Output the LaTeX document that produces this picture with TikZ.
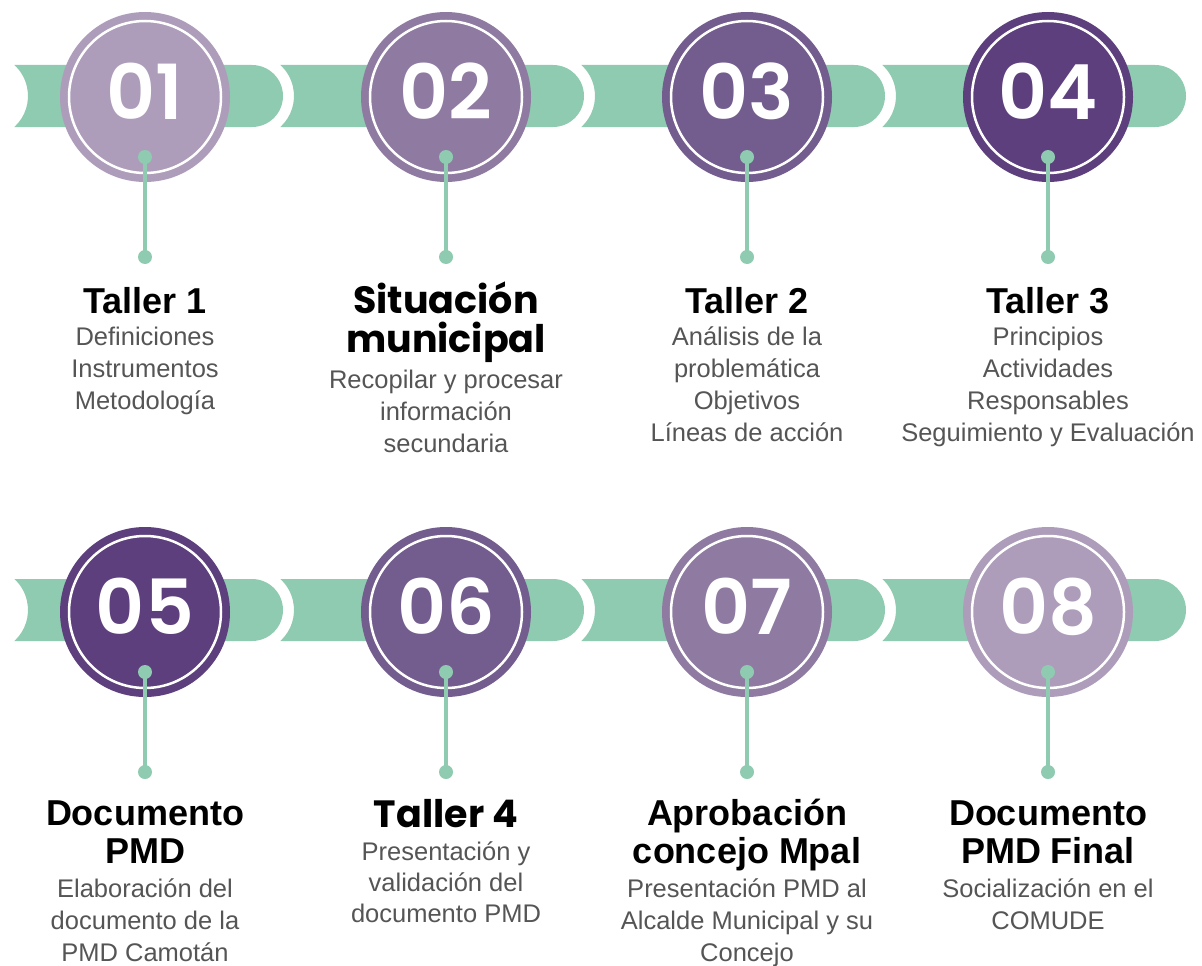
\documentclass[tikz,border=0pt]{standalone}
\usepackage{fontspec}
\setmainfont{Liberation Sans}
\newfontfamily\numfont{Poppins}[BoldFont={Poppins SemiBold}]
\newfontfamily\headfont{Poppins}
\definecolor{bandgreen}{HTML}{8FCBB0}
\definecolor{cA}{HTML}{AD9DBB}
\definecolor{cB}{HTML}{8F7BA1}
\definecolor{cC}{HTML}{735C8E}
\definecolor{cD}{HTML}{5C3F7C}
\definecolor{bodygray}{HTML}{555555}
\newcommand\bandseg[3]{% #1 concave centre x, #2 rounded end centre x, #3 band centre y
  \fill[bandgreen] ({#1+28.34},{#3-31}) -- (#2,{#3-31})
    arc[start angle=90,end angle=-90,radius=31pt]
    -- ({#1+28.34},{#3+31})
    arc[start angle=-47.56,end angle=47.56,radius=42pt] -- cycle;}
\newcommand\textlines[6]{% #1 style, #2 name prefix, #3 x, #4 first baseline, #5 step, #6 lines
  \foreach \txt [count=\k from 0] in {#6} {\node[#1] (#2\k) at (#3,{#4+#5*\k}) {\txt};}}
\begin{document}
\begin{tikzpicture}[x=1pt,y=-1pt,
  disc/.style={circle, minimum size=170pt, inner sep=0pt},
  num/.style={font=\numfont\bfseries\fontsize{76}{76}\selectfont, text=white, inner sep=0pt, anchor=base},
  dotn/.style={circle, fill=bandgreen, minimum size=14pt, inner sep=0pt},
  conn/.style={draw=bandgreen, line width=4pt},
  ttl/.style={font=\bfseries\fontsize{36}{38}\selectfont, inner sep=0pt, anchor=base},
  mttl/.style={font=\headfont\bfseries\fontsize{38}{39}\selectfont, inner sep=0pt, anchor=base},
  bod/.style={font=\fontsize{25.5}{32}\selectfont, text=bodygray, inner sep=0pt, anchor=base}]
\useasboundingbox (0,0) rectangle (1202,966);
% bands
\foreach \cy in {96,610}{
  \bandseg{-14}{252}{\cy}
  \bandseg{252}{553}{\cy}
  \bandseg{553}{854}{\cy}
  \bandseg{854}{1155}{\cy}
}
% circles, numbers, connectors
\foreach \n/\x/\y/\c in {1/145/97/cA, 2/446/97/cB, 3/747/97/cC, 4/1048/97/cD,
                         5/145/612/cD, 6/446/612/cC, 7/747/612/cB, 8/1048/612/cA}{
  \node[disc, fill=\c] (c\n) at (\x,\y) {};
  \draw[white, line width=2.5pt] (c\n.center) circle[radius=76pt];
  \node[num] (n\n) at (\x,{\y+22}) {0\n};
  \node[dotn] (d\n) at (\x,{\y+60}) {};
  \node[dotn] (e\n) at (\x,{\y+160}) {};
  \draw[conn] (d\n.center) -- (e\n.center);
}
% texts, top row
\textlines{ttl}{ta}{145}{313}{38}{Taller 1}
\textlines{bod}{ba}{145}{345}{32}{Definiciones,Instrumentos,Metodología}
\textlines{mttl}{tb}{446}{313}{39}{Situación,municipal}
\textlines{bod}{bb}{446}{388}{32}{Recopilar y procesar,información,secundaria}
\textlines{ttl}{tc}{747}{313}{38}{Taller 2}
\textlines{bod}{bc}{747}{345}{32}{Análisis de la,problemática,Objetivos,Líneas de acción}
\textlines{ttl}{td}{1048}{313}{38}{Taller 3}
\textlines{bod}{bd}{1048}{345}{32}{Principios,Actividades,Responsables,Seguimiento y Evaluación}
% texts, bottom row
\textlines{ttl}{te}{145}{825}{38}{Documento,PMD}
\textlines{bod}{be}{145}{897}{32}{Elaboración del,documento de la,PMD Camotán}
\textlines{mttl}{tf}{446}{827}{39}{Taller 4}
\textlines{bod}{bf}{446}{860}{31}{Presentación y,validación del,documento PMD}
\textlines{ttl}{tg}{747}{825}{38}{Aprobación,concejo Mpal}
\textlines{bod}{bg}{747}{897}{32}{Presentación PMD al,Alcalde Municipal y su,Concejo}
\textlines{ttl}{th}{1048}{825}{38}{Documento,PMD Final}
\textlines{bod}{bh}{1048}{897}{32}{Socialización en el,COMUDE}
\end{tikzpicture}
\end{document}
